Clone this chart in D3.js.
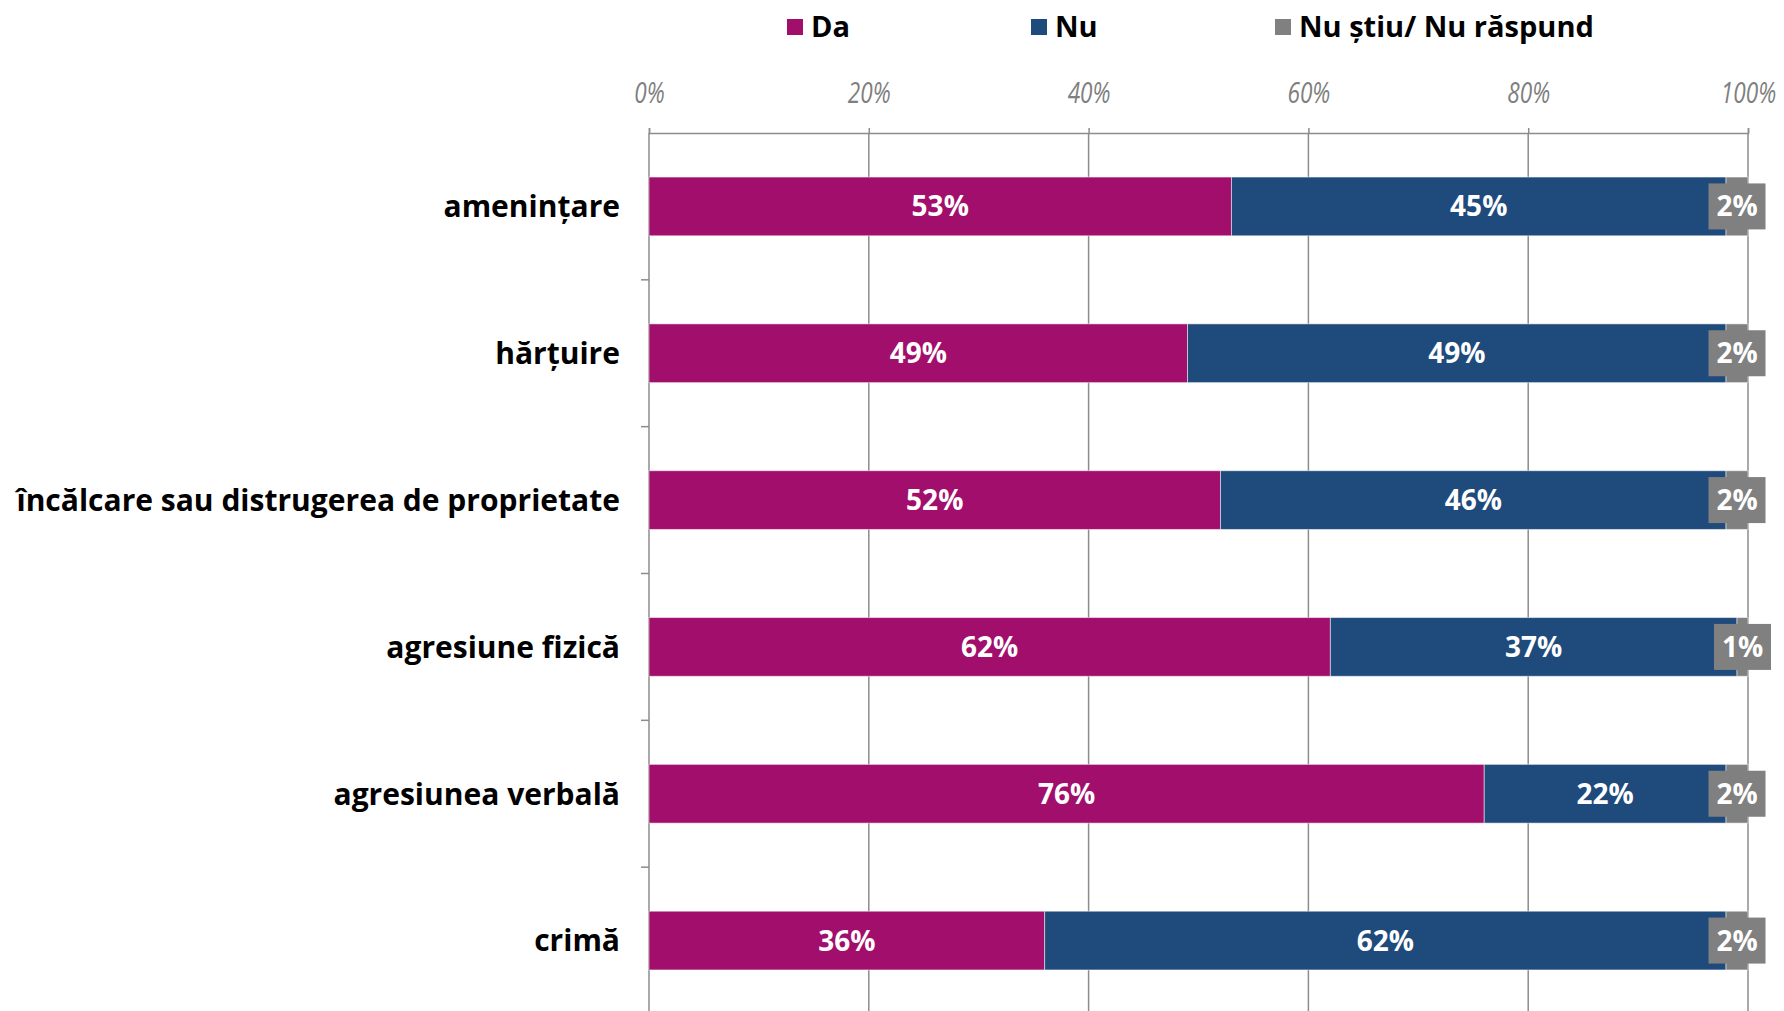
<!DOCTYPE html>
<html><head><meta charset="utf-8">
<script src="https://cdn.jsdelivr.net/npm/d3@7"></script>
<style>
html,body{margin:0;padding:0;background:#fff;}
svg{display:block;}
</style></head>
<body>
<svg id="c" width="1784" height="1011"></svg>
<script>
const categories = ["amenințare","hărțuire","încălcare sau distrugerea de proprietate","agresiune fizică","agresiunea verbală","crimă"];
const seriesNames = ["Da","Nu","Nu știu/ Nu răspund"];
const da = [53,49,52,62,76,36];
const nu = [45,49,46,37,22,62];
const ns = [2,2,2,1,2,2];
const tickValues = [0,20,40,60,80,100];
const colors = ["#A20E6B","#1F4A7C","#808080"];

(function(){
const svg = d3.select("#c");
const W=1784,H=1011;
const pL=649, pR=1748, pT=133, pB=1014;

const x = d3.scaleLinear().domain([0,100]).range([pL,pR]);
const y = d3.scaleBand().domain(categories).range([pT,pB]).paddingInner(0.6).paddingOuter(0.3);

const bfont = "'Open Sans', 'DejaVu Sans', sans-serif";
const ifont = "'Open Sans', Lato, sans-serif";

function fit(sel, target){
  let maxW = 0;
  sel.each(function(){maxW = Math.max(maxW, this.getComputedTextLength());});
  const fs = parseFloat(sel.attr("font-size"));
  sel.attr("font-size", fs*target/maxW);
}

// gridlines
svg.append("g").selectAll("line").data(tickValues.slice(1)).join("line")
  .attr("x1",d=>x(d)).attr("x2",d=>x(d)).attr("y1",pT).attr("y2",H)
  .attr("stroke","#8c8c8c").attr("stroke-width",1.5);

// top axis
const xa = svg.append("g").attr("transform",`translate(0,${pT})`)
  .call(d3.axisTop(x).tickValues(tickValues).tickFormat(d=>d+"%").tickSize(5).tickPadding(25));
xa.select(".domain").attr("stroke","#8c8c8c").attr("stroke-width",1.5);
xa.selectAll(".tick line").attr("stroke","#8c8c8c").attr("stroke-width",1.5);
xa.selectAll(".tick text").attr("fill","#7f7f7f").attr("font-family",ifont)
  .attr("font-style","italic").attr("font-size",29).attr("transform","scale(0.78,1)");

// left axis line with band-boundary ticks
svg.append("line").attr("x1",pL).attr("x2",pL).attr("y1",pT).attr("y2",H)
  .attr("stroke","#8c8c8c").attr("stroke-width",1.5);
const step = y.step();
const gap = y.paddingInner()*step;
svg.append("g").selectAll("line").data(categories.slice(1)).join("line")
  .attr("x1",pL-8).attr("x2",pL)
  .attr("y1",d=>y(d)-gap/2).attr("y2",d=>y(d)-gap/2)
  .attr("stroke","#8c8c8c").attr("stroke-width",1.5);

// stacked data
const rows = categories.map((c,i)=>({cat:c, vals:[da[i],nu[i],ns[i]]}));
const segs = [];
rows.forEach(r=>{let acc=0; r.vals.forEach((v,k)=>{segs.push({cat:r.cat,k,v,x0:acc,x1:acc+v}); acc+=v;});});

svg.append("g").selectAll("rect").data(segs).join("rect")
  .attr("x",d=>x(d.x0)).attr("width",d=>x(d.x1)-x(d.x0))
  .attr("y",d=>y(d.cat)).attr("height",y.bandwidth())
  .attr("fill",d=>colors[d.k]).attr("stroke","#ffffff").attr("stroke-opacity",0.5).attr("stroke-width",1);

// gray label boxes for third series
const boxW=57, boxH=46;
svg.append("g").selectAll("rect").data(segs.filter(d=>d.k===2)).join("rect")
  .attr("x",d=>(x(d.x0)+x(d.x1))/2-boxW/2).attr("y",d=>y(d.cat)+y.bandwidth()/2-boxH/2)
  .attr("width",boxW).attr("height",boxH).attr("fill",colors[2]);

svg.append("g").selectAll("text").data(segs).join("text")
  .attr("x",d=>(x(d.x0)+x(d.x1))/2).attr("y",d=>y(d.cat)+y.bandwidth()/2)
  .attr("dy","0.36em").attr("text-anchor","middle")
  .attr("fill","#fff").attr("font-family",bfont).attr("font-weight","bold").attr("font-size",28)
  .text(d=>d.v+"%");

// category labels
const cl = svg.append("g").selectAll("text").data(categories).join("text")
  .attr("x",620).attr("y",d=>y(d)+y.bandwidth()/2).attr("dy","0.36em")
  .attr("text-anchor","end").attr("fill","#000").attr("font-family",bfont)
  .attr("font-weight","bold").attr("font-size",26).text(d=>d);
fit(cl, 604);

// legend
const legX=[787,1031,1275];
const lg = svg.append("g").selectAll("g").data(seriesNames).join("g")
  .attr("transform",(d,i)=>`translate(${legX[i]},19)`);
lg.append("rect").attr("width",16).attr("height",16).attr("fill",(d,i)=>colors[i]);
const lt = lg.append("text").attr("x",24).attr("y",8).attr("dy","0.36em").attr("font-family",bfont)
  .attr("font-weight","bold").attr("font-size",26).attr("fill","#000").text(d=>d);
fit(lt, 295);
})();
</script>
</body></html>
